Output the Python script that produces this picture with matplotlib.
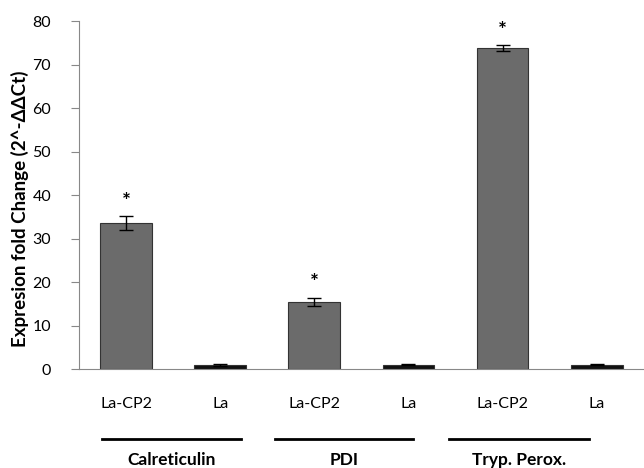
import matplotlib.pyplot as plt

# data
samples = ["La-CP2", "La", "La-CP2", "La", "La-CP2", "La"]
genes = ["Calreticulin", "PDI", "Tryp. Perox."]
values = [33.5, 1.0, 15.5, 1.0, 73.8, 1.0]
errors = [1.6, 0.2, 0.9, 0.1, 0.6, 0.1]
signif = [True, False, True, False, True, False]
# extent of the group underlines (in bar-index units)
group_spans = [(-0.256, 1.218), (1.578, 3.052), (3.434, 4.919)]

plt.rcParams['font.family'] = ['Lato', 'DejaVu Sans']

fig = plt.figure(figsize=(6.44, 4.68), dpi=100)
ax = fig.add_axes([0.1227, 0.2115, 0.877, 0.7435])

x = list(range(len(values)))
colors = ['#6b6b6b' if s == "La-CP2" else '#111111' for s in samples]
ax.bar(x, values, width=0.55, color=colors, edgecolor='#333333', linewidth=0.8,
       yerr=errors, capsize=5, error_kw=dict(ecolor='black', elinewidth=1, capthick=1))

for xi, v, e, s in zip(x, values, errors, signif):
    if s:
        ax.text(xi, v + e + 1.0, "*", ha='center', va='bottom', fontsize=15,
                fontweight='bold')

ax.set_xlim(-0.5, len(values) - 0.5)
ax.set_ylim(0, 80)
ax.set_yticks(range(0, 81, 10))
ax.set_xticks(x)
ax.set_xticklabels(samples, fontsize=11.5)
ax.tick_params(axis='x', length=0, pad=20)
ax.tick_params(axis='y', labelsize=11.5, color='#888888', length=6, pad=14,
               direction='out')
ax.set_ylabel("Expresion fold Change (2^-\u0394\u0394Ct)", fontsize=13.5,
              fontweight='bold')
ax.yaxis.set_label_coords(-0.088, 0.46)

for side in ['top', 'right']:
    ax.spines[side].set_visible(False)
for side in ['left', 'bottom']:
    ax.spines[side].set_color('#888888')

# group lines and names below the axis
for g, (x0, x1) in zip(genes, group_spans):
    ax.plot([x0, x1], [-16.1, -16.1], color='black', lw=2, clip_on=False)
    ax.text((x0 + x1) / 2, -19.0, g, ha='center', va='top', fontsize=12.5,
            fontweight='bold')

fig.savefig("out.png", dpi=100)
